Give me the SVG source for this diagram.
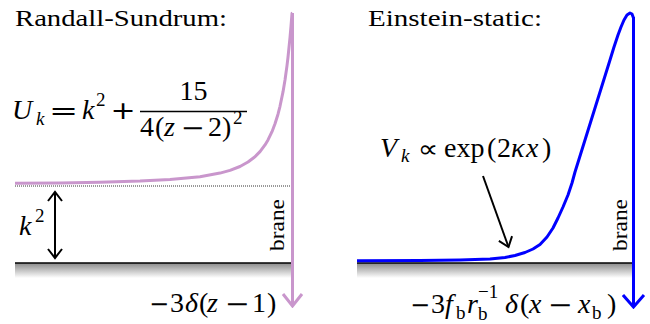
<svg xmlns="http://www.w3.org/2000/svg" width="650" height="324" viewBox="0 0 650 324">
<style>
text{font-family:'Liberation Serif','DejaVu Serif',serif;fill:#000}
.m{font-size:28px}
.s{font-size:19px}
.i{font-style:italic}
.op{font-family:'DejaVu Sans',sans-serif;font-size:24px}
.ground{stroke:#000;stroke-width:1.3}
.pink{fill:none;stroke:#c996cc;stroke-width:3;stroke-linejoin:round}
.blue{fill:none;stroke:#0000ff;stroke-width:3;stroke-linejoin:round}
.blk{fill:none;stroke:#000;stroke-width:2}
</style>
<defs>
<linearGradient id="shade" x1="0" y1="0" x2="0" y2="1">
<stop offset="0" stop-color="#8a8a8a"/>
<stop offset="1" stop-color="#ffffff"/>
</linearGradient>
<marker id="hp" viewBox="-14 -12 16 24" refX="0" refY="0" markerWidth="16" markerHeight="24" markerUnits="userSpaceOnUse" orient="auto">
<path d="M-12,-9.5 L0,0 L-12,9.5" fill="none" stroke="#c996cc" stroke-width="3"/>
</marker>
<marker id="hb" viewBox="-14 -12 16 24" refX="0" refY="0" markerWidth="16" markerHeight="24" markerUnits="userSpaceOnUse" orient="auto">
<path d="M-12,-10.5 L0,0 L-12,10.5" fill="none" stroke="#0000ff" stroke-width="3"/>
</marker>
<marker id="hk" viewBox="-12 -10 14 20" refX="0" refY="0" markerWidth="14" markerHeight="20" markerUnits="userSpaceOnUse" orient="auto-start-reverse">
<path d="M-9,-7 L0,0 L-9,7" fill="none" stroke="#000" stroke-width="2"/>
</marker>
</defs>

<g id="left-panel">
<text x="15" y="26" font-size="24" textLength="212" lengthAdjust="spacingAndGlyphs">Randall-Sundrum:</text>
<rect x="15" y="263" width="277" height="15" fill="url(#shade)"/>
<line class="ground" x1="15" y1="263" x2="292" y2="263"/>
<line x1="15" y1="186" x2="292" y2="186" stroke="#000" stroke-width="0.8" stroke-dasharray="1 1"/>
<polyline class="pink" points="15,183.3 60,182.9 100,182.2 140,181.1 170,179.5 200,176.7 220,173.1 230,170.4 240,166.5 248,162 255,156.7 260,151.6 265,144.9 268,139.9 272,131.7 275,123.8 278,114.2 280,106.3 283,91.9 285,80 287,65.6 288,57.3 290,37.7 291,26.2 292,13.3 292.5,13"/>
<g id="formula-U">
<text class="m i" x="12" y="119">U</text>
<text class="s i" x="36" y="125">k</text>
<text class="op" transform="translate(63.5,119) scale(1.45,1)" text-anchor="middle">=</text>
<text class="m i" x="82" y="119">k</text>
<text class="s" x="96" y="106">2</text>
<text class="op" transform="translate(123,119) scale(1.25,1)" text-anchor="middle">+</text>
<line x1="140" y1="111.5" x2="247" y2="111.5" stroke="#000" stroke-width="1.3"/>
<text class="m" x="193.5" y="100" text-anchor="middle">15</text>
<text class="m" x="140" y="136">4</text>
<text class="m" x="155" y="136">(</text>
<text class="m i" x="164" y="136">z</text>
<text class="op" transform="translate(192.5,136) scale(1.2,1)" text-anchor="middle">−</text>
<text class="m" x="208" y="136">2</text>
<text class="m" x="222" y="136">)</text>
<text class="s" x="233" y="124">2</text>
</g>
<text class="m i" x="19" y="235">k</text>
<text class="s" x="35" y="222">2</text>
<text font-size="22" transform="translate(283.5,225) rotate(-90)" text-anchor="middle" textLength="52" lengthAdjust="spacingAndGlyphs">brane</text>
<g id="label-delta-left">
<text class="op" x="159" y="312" text-anchor="middle">−</text>
<text class="m" x="170" y="312">3</text>
<text class="m i" x="185" y="312">δ</text>
<text class="m" x="199" y="312">(</text>
<text class="m i" x="207" y="312">z</text>
<text class="op" transform="translate(237,312) scale(1.25,1)" text-anchor="middle">−</text>
<text class="m" x="252" y="312">1</text>
<text class="m" x="267" y="312">)</text>
</g>
</g>

<g id="right-panel">
<text x="368" y="26" font-size="24" textLength="174" lengthAdjust="spacingAndGlyphs">Einstein-static:</text>
<rect x="357" y="263" width="276" height="15" fill="url(#shade)"/>
<line class="ground" x1="357" y1="263" x2="633.5" y2="263"/>
<polyline class="blue" points="357,260.8 420,260.5 460,260 490,259 505,257.5 515,255.5 525,252.5 533,249 540,244.5 547,237 553,228 558,218 563,207 568,195 572,183 575,172 580,156 585,140 590,124 595,108 600,92 605,76 610,60 614,47 618,35 621,27 624,20 627,15 630,13 632,14 633.5,18"/>
<g id="formula-V">
<text class="m i" x="380" y="157">V</text>
<text class="s i" x="401" y="162">k</text>
<text class="op" transform="translate(428,157) scale(1.2,1)" text-anchor="middle">∝</text>
<text class="m" x="444" y="157">exp</text>
<text class="m" x="487" y="157">(</text>
<text class="m" x="497" y="157">2</text>
<text class="m i" x="511" y="157">κ</text>
<text class="m i" x="526" y="157">x</text>
<text class="m" x="542" y="157">)</text>
</g>
<text font-size="22" transform="translate(626.5,225) rotate(-90)" text-anchor="middle" textLength="52" lengthAdjust="spacingAndGlyphs">brane</text>
<g id="label-delta-right">
<text class="op" x="420" y="313" text-anchor="middle">−</text>
<text class="m" x="431" y="313">3</text>
<text class="m i" x="445" y="313">f</text>
<text class="s" x="456" y="319" font-size="16">b</text>
<text class="m i" x="467" y="313">r</text>
<text class="s" x="478" y="320" font-size="16">b</text>
<text class="s" x="478" y="298" font-size="16">−1</text>
<text class="m i" x="505" y="313">δ</text>
<text class="m" x="520" y="313">(</text>
<text class="m i" x="529" y="313">x</text>
<text class="op" transform="translate(560,313) scale(1.25,1)" text-anchor="middle">−</text>
<text class="m i" x="578" y="313">x</text>
<text class="s" x="592" y="319" font-size="16">b</text>
<text class="m" x="607" y="313">)</text>
</g>
</g>

<g id="connectors">
<line class="pink" x1="292.5" y1="13" x2="292.5" y2="306" marker-end="url(#hp)"/>
<line class="blue" x1="633.5" y1="17" x2="633.5" y2="307" marker-end="url(#hb)"/>
<line class="blk" x1="55" y1="192" x2="55" y2="258" marker-start="url(#hk)" marker-end="url(#hk)"/>
<line class="blk" x1="483" y1="176" x2="508.5" y2="247" marker-end="url(#hk)"/>
</g>
</svg>
